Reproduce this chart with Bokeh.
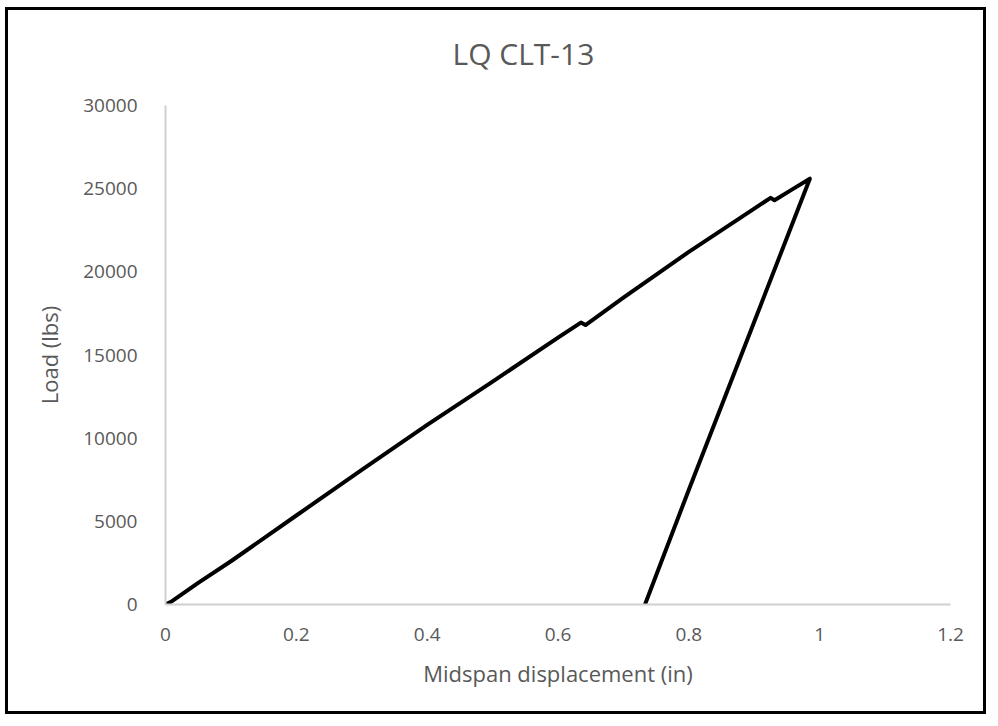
from bokeh.plotting import figure
from bokeh.models import Range1d, FixedTicker, Title
from bokeh.embed import file_html
from bokeh.resources import INLINE

# Loading branch (displacement in, load lbs)
load_x = [0.0, 0.01, 0.05, 0.10, 0.20, 0.30, 0.40, 0.50, 0.60, 0.635, 0.642,
          0.70, 0.80, 0.90, 0.925, 0.931, 0.96, 0.985]
load_y = [0, 200, 1300, 2600, 5350, 8100, 10800, 13400, 16050, 16950, 16800,
          18450, 21200, 23800, 24450, 24300, 25000, 25600]
# Unloading branch
unload_x = [0.985, 0.90, 0.80, 0.733]
unload_y = [25600, 17000, 6900, 0]

x_ticks = [0, 0.2, 0.4, 0.6, 0.8, 1.0, 1.2]
x_tick_labels = ["0", "0.2", "0.4", "0.6", "0.8", "1", "1.2"]
y_ticks = [0, 5000, 10000, 15000, 20000, 25000, 30000]
title_text = "LQ CLT-13"

FONT = "Open Sans"
GRAY = "#595959"

p = figure(width=981, height=707, output_backend="svg", toolbar_location=None,
           x_range=Range1d(0, 1.2), y_range=Range1d(0, 30000),
           min_border_left=157, min_border_right=39, min_border_top=95,
           min_border_bottom=113, margin=(7, 0, 0, 5))
p.styles = {"border": "3px solid black"}

p.line(load_x + unload_x, load_y + unload_y, line_color="black", line_width=4,
       line_join="round")

p.title = None
spacer = Title(text="\u00a0", standoff=0, text_font=FONT, text_font_size="10px")
p.add_layout(spacer, "above")
t = Title(text=title_text, align="left", offset=287, standoff=32,
          text_font=FONT, text_font_size="30px", text_font_style="normal",
          text_color=GRAY)
p.add_layout(t, "above")

p.grid.visible = False
p.outline_line_color = None

for ax in (p.xaxis[0], p.yaxis[0]):
    ax.axis_line_color = "#d0d0d0"
    ax.axis_line_width = 2
    ax.major_tick_line_color = None
    ax.minor_tick_line_color = None
    ax.major_label_text_font = FONT
    ax.major_label_text_font_size = "19px"
    ax.major_label_text_color = GRAY
    ax.axis_label_text_font = FONT
    ax.axis_label_text_font_size = "22px"
    ax.axis_label_text_font_style = "normal"
    ax.axis_label_text_color = GRAY

p.xaxis.ticker = FixedTicker(ticks=x_ticks)
p.yaxis.ticker = FixedTicker(ticks=y_ticks)
p.xaxis.major_label_overrides = dict(zip(x_ticks, x_tick_labels))
p.xaxis.axis_label = "Midspan displacement (in)"
p.yaxis.axis_label = "Load (lbs)"
p.xaxis.major_label_standoff = 17
p.yaxis.major_label_standoff = 22
p.xaxis.axis_label_standoff = 14
p.yaxis.axis_label_standoff = 16

open("out.html", "w").write(file_html(p, INLINE))
